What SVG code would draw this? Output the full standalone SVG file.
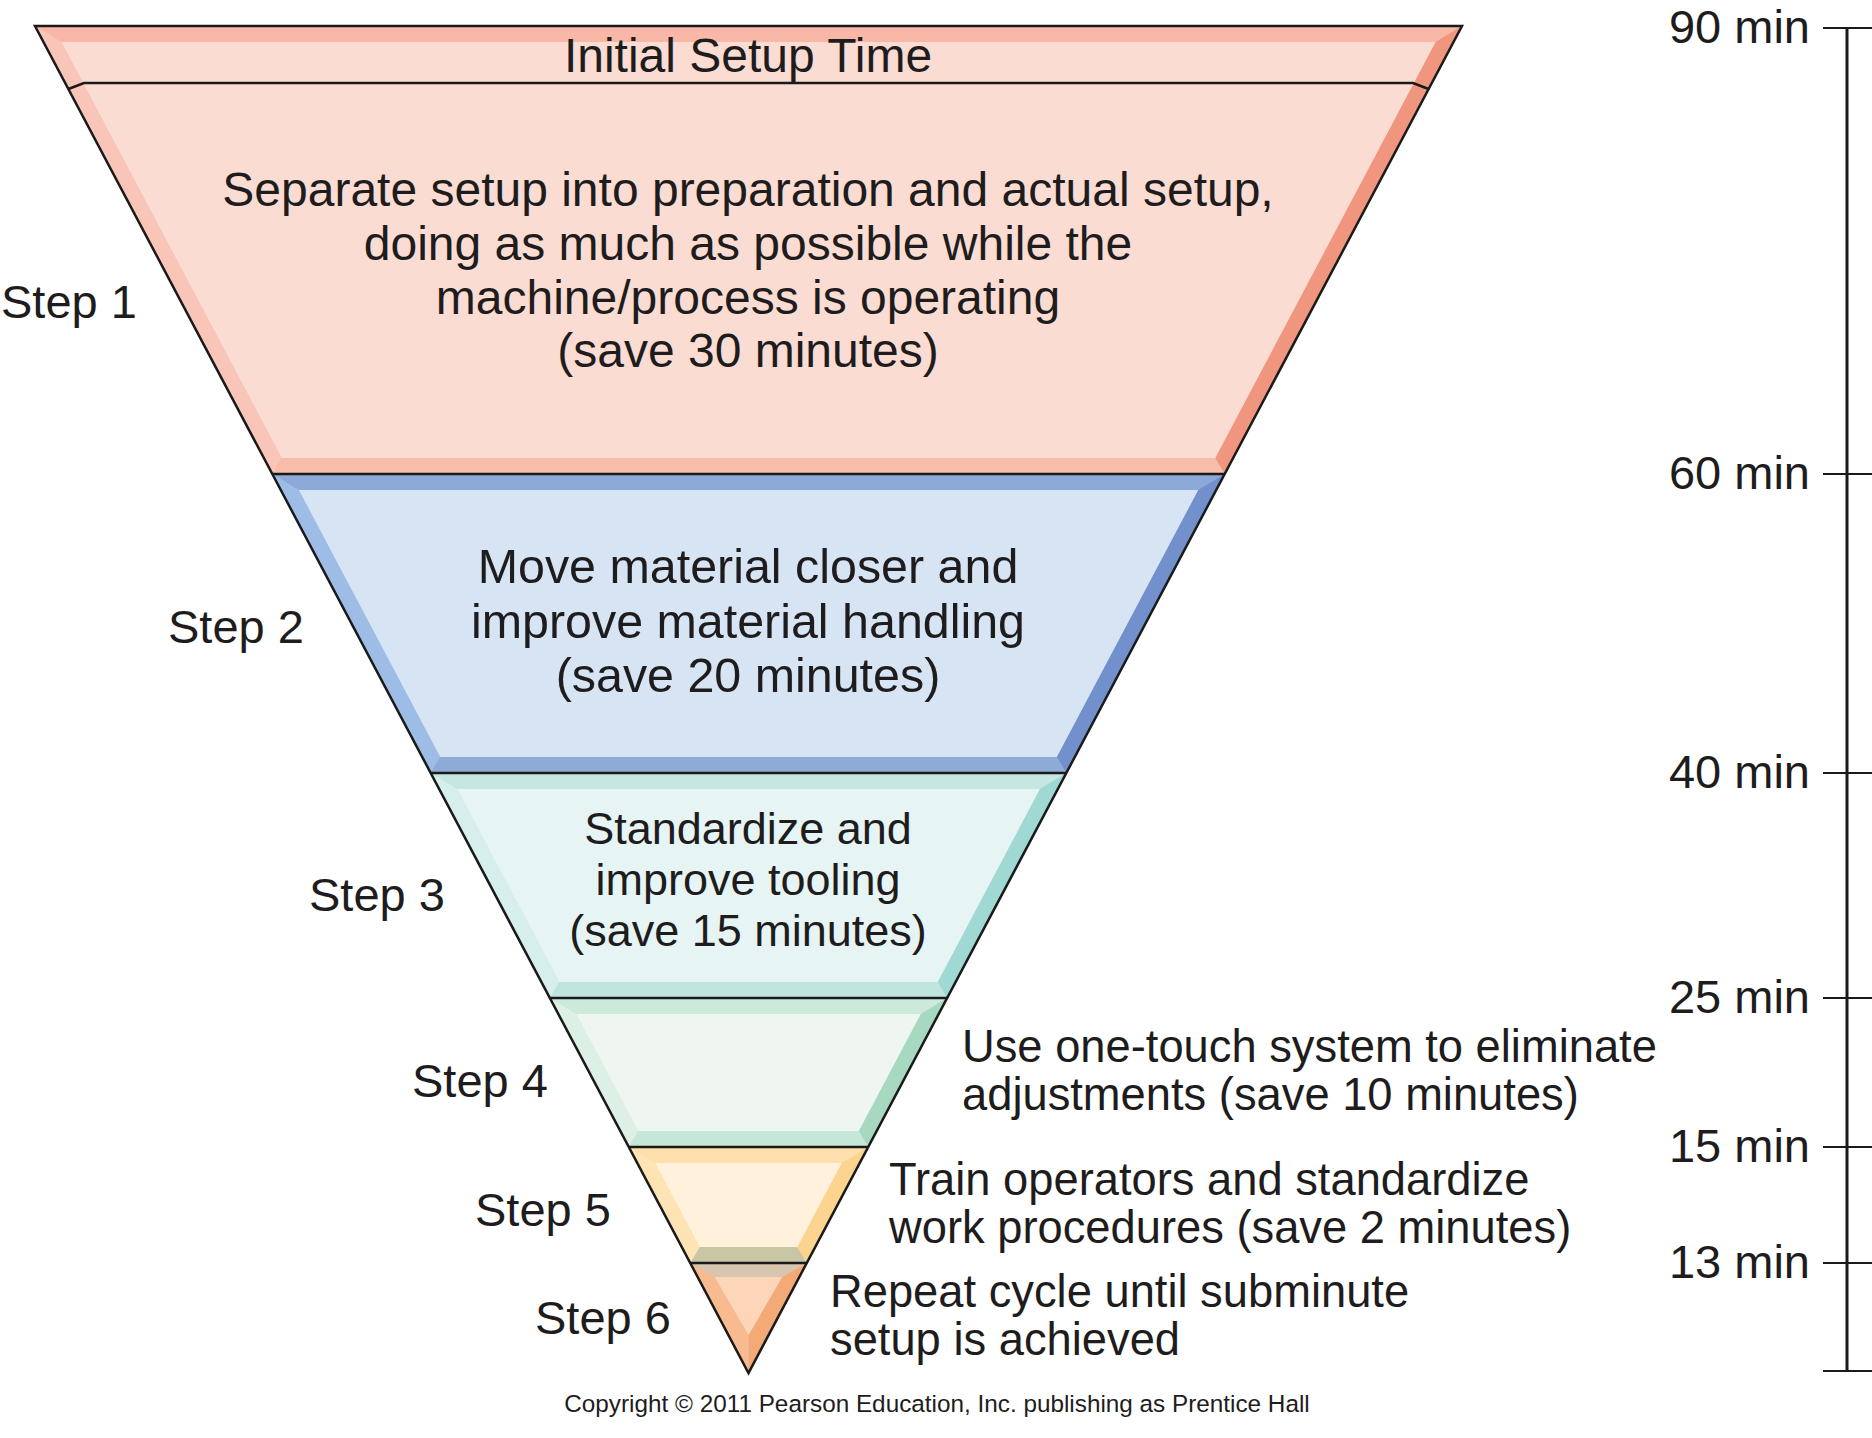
<svg xmlns="http://www.w3.org/2000/svg" width="1872" height="1438" viewBox="0 0 1872 1438">
<style>
text{font-family:"Liberation Sans",Arial,Helvetica,sans-serif;fill:#1e1c1d}
.m{font-size:48px;text-anchor:middle}
.m2{font-size:48.4px;text-anchor:middle}
.m3{font-size:45px;text-anchor:middle}
.st{font-size:47px}
.sd{font-size:45.3px}
.sc{font-size:47px;text-anchor:end}
.cp{font-size:24.3px;text-anchor:middle}
.sep{fill:none;stroke:#1a1a1a;stroke-width:2.5}
.tick{stroke:#1a1a1a;stroke-width:2}
</style>
<rect width="1872" height="1438" fill="#ffffff"/>

<g id="band-step1">
<polygon points="35,26 1462,26 1224.7,474 272.3,474" fill="#f9b8a7"/>
<polygon points="35,26 61.5,42 281.8,458 272.3,474" fill="#f8c5b8"/>
<polygon points="1462,26 1435.5,42 1215.2,458 1224.7,474" fill="#f0957e"/>
<polygon points="272.3,474 281.8,458 1215.2,458 1224.7,474" fill="#f7bcaa"/>
<polygon points="61.5,42 1435.5,42 1215.2,458 281.8,458" fill="#fbdcd3"/>
<polyline class="sep" points="68.4,89 84,83 1413,83 1428.6,89"/>
<text x="748" y="72" class="m">Initial Setup Time</text>
<text x="748" y="206" class="m">Separate setup into preparation and actual setup,</text>
<text x="748" y="260" class="m">doing as much as possible while the</text>
<text x="748" y="314" class="m">machine/process is operating</text>
<text x="748" y="367" class="m">(save 30 minutes)</text>
</g>

<g id="band-step2">
<polygon points="272.3,474 1224.7,474 1066.3,773 430.7,773" fill="#8ca9d8"/>
<polygon points="272.3,474 298.8,490 440.2,757 430.7,773" fill="#9ebde6"/>
<polygon points="1224.7,474 1198.2,490 1056.8,757 1066.3,773" fill="#7290cc"/>
<polygon points="430.7,773 440.2,757 1056.8,757 1066.3,773" fill="#8eaad7"/>
<polygon points="298.8,490 1198.2,490 1056.8,757 440.2,757" fill="#d6e4f4"/>
<text x="748" y="583" class="m2">Move material closer and</text>
<text x="748" y="638" class="m2">improve material handling</text>
<text x="748" y="692" class="m2">(save 20 minutes)</text>
</g>

<g id="band-step3">
<polygon points="430.7,773 1066.3,773 947.1,998 549.9,998" fill="#c6e7e1"/>
<polygon points="430.7,773 457.2,789 559.4,982 549.9,998" fill="#d6efec"/>
<polygon points="1066.3,773 1039.8,789 937.6,982 947.1,998" fill="#a0d8d3"/>
<polygon points="549.9,998 559.4,982 937.6,982 947.1,998" fill="#c0e4de"/>
<polygon points="457.2,789 1039.8,789 937.6,982 559.4,982" fill="#e6f4f4"/>
<text x="748" y="844" class="m3">Standardize and</text>
<text x="748" y="895" class="m3">improve tooling</text>
<text x="748" y="946" class="m3">(save 15 minutes)</text>
</g>

<g id="band-step4">
<polygon points="549.9,998 947.1,998 868.2,1147 628.8,1147" fill="#cde9d9"/>
<polygon points="549.9,998 576.3,1014 638.3,1131 628.8,1147" fill="#dcf0e6"/>
<polygon points="947.1,998 920.7,1014 858.7,1131 868.2,1147" fill="#a6d9c0"/>
<polygon points="628.8,1147 638.3,1131 858.7,1131 868.2,1147" fill="#c6e6d7"/>
<polygon points="576.3,1014 920.7,1014 858.7,1131 638.3,1131" fill="#eff6f2"/>
</g>

<g id="band-step5">
<polygon points="628.8,1147 868.2,1147 806.8,1263 690.2,1263" fill="#fde0ad"/>
<polygon points="628.8,1147 655.3,1163 699.8,1247 690.2,1263" fill="#fee4b4"/>
<polygon points="868.2,1147 841.7,1163 797.2,1247 806.8,1263" fill="#fcd48f"/>
<polygon points="690.2,1263 699.8,1247 797.2,1247 806.8,1263" fill="#c8c6a4"/>
<polygon points="655.3,1163 841.7,1163 797.2,1247 699.8,1247" fill="#fff1dc"/>
</g>

<g id="band-step6">
<polygon points="690.2,1263 806.8,1263 748.5,1373" fill="#d9c6b1"/>
<polygon points="690.2,1263 714.7,1277 748.5,1335 748.5,1373" fill="#f8bb90"/>
<polygon points="806.8,1263 782.3,1277 748.5,1335 748.5,1373" fill="#f4aa77"/>
<polygon points="714.7,1277 782.3,1277 748.5,1335" fill="#fdd6ba"/>
</g>

<g id="separators">
<line class="sep" x1="272.3" y1="474" x2="1224.7" y2="474"/>
<line class="sep" x1="430.7" y1="773" x2="1066.3" y2="773"/>
<line class="sep" x1="549.9" y1="998" x2="947.1" y2="998"/>
<line class="sep" x1="628.8" y1="1147" x2="868.2" y2="1147"/>
<line class="sep" x1="690.2" y1="1263" x2="806.8" y2="1263"/>
<polygon class="sep" points="35,26 1462,26 748.5,1373"/>
</g>

<g id="step-labels">
<text x="1" y="318" class="st">Step 1</text>
<text x="168" y="643" class="st">Step 2</text>
<text x="309" y="911" class="st">Step 3</text>
<text x="412" y="1097" class="st">Step 4</text>
<text x="475" y="1226" class="st">Step 5</text>
<text x="535" y="1334" class="st">Step 6</text>
</g>

<g id="side-notes">
<text x="962" y="1062" class="sd">Use one-touch system to eliminate</text>
<text x="962" y="1110" class="sd">adjustments (save 10 minutes)</text>
<text x="889" y="1195" class="sd">Train operators and standardize</text>
<text x="889" y="1243" class="sd">work procedures (save 2 minutes)</text>
<text x="830" y="1307" class="sd">Repeat cycle until subminute</text>
<text x="830" y="1355" class="sd">setup is achieved</text>
</g>

<g id="time-scale">
<line x1="1847" y1="28" x2="1847" y2="1371" stroke="#1a1a1a" stroke-width="3"/>
<line class="tick" x1="1823" y1="28" x2="1872" y2="28"/>
<line class="tick" x1="1823" y1="474" x2="1872" y2="474"/>
<line class="tick" x1="1823" y1="773" x2="1872" y2="773"/>
<line class="tick" x1="1823" y1="998" x2="1872" y2="998"/>
<line class="tick" x1="1823" y1="1147" x2="1872" y2="1147"/>
<line class="tick" x1="1823" y1="1263" x2="1872" y2="1263"/>
<line class="tick" x1="1823" y1="1371" x2="1872" y2="1371"/>
<text x="1810" y="43" class="sc">90 min</text>
<text x="1810" y="489" class="sc">60 min</text>
<text x="1810" y="788" class="sc">40 min</text>
<text x="1810" y="1013" class="sc">25 min</text>
<text x="1810" y="1162" class="sc">15 min</text>
<text x="1810" y="1278" class="sc">13 min</text>
</g>

<text x="937" y="1412" class="cp">Copyright © 2011 Pearson Education, Inc. publishing as Prentice Hall</text>
</svg>
